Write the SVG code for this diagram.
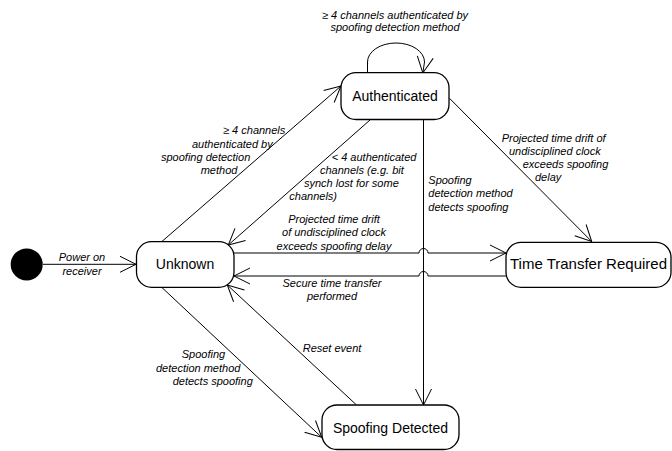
<svg xmlns="http://www.w3.org/2000/svg" width="672" height="451" viewBox="0 0 672 451">
<style>
.state{fill:#fff;stroke:#000;stroke-width:1.3}
.name{font-family:"Liberation Sans",Arial,sans-serif;font-size:14px;fill:#000;text-anchor:middle}
.edge{fill:none;stroke:#000;stroke-width:1;marker-end:url(#arr)}
.lbl{font-family:"Liberation Sans",Arial,sans-serif;font-size:11px;font-style:italic;fill:#000}
.mid{text-anchor:middle}
</style>
<defs>
<marker id="arr" viewBox="0 0 17 18" refX="16.5" refY="9" markerWidth="17" markerHeight="18" markerUnits="userSpaceOnUse" orient="auto">
<path d="M0.5,1 L16.5,9 L0.5,17" fill="none" stroke="#000" stroke-width="1"/>
</marker>
</defs>
<rect width="672" height="451" fill="#fff"/>
<g id="connectors">
<g id="e-power">
<path class="edge" d="M43,264.3 L136,264.3"/>
<text class="lbl mid" x="82" y="260.5">Power on</text>
<text class="lbl mid" x="82" y="274.5">receiver</text>
</g>
<g id="e-unknown-auth">
<path class="edge" d="M161.7,241.7 L341,86"/>
<text class="lbl" x="223" y="134">≥ 4 channels</text>
<text class="lbl" x="192" y="147.5">authenticated by</text>
<text class="lbl" x="161" y="161">spoofing detection</text>
<text class="lbl" x="200.7" y="174">method</text>
</g>
<g id="e-auth-self">
<path class="edge" d="M367.5,73 L367.5,62 A28.5,19 0 0 1 424.5,62 L422.8,73"/>
<text class="lbl mid" x="395" y="19">≥ 4 channels authenticated by</text>
<text class="lbl mid" x="395" y="31">spoofing detection method</text>
</g>
<g id="e-auth-unknown">
<path class="edge" d="M370,120 L228.3,245"/>
<text class="lbl" x="331.7" y="161">&lt; 4 authenticated</text>
<text class="lbl" x="320" y="174">channels (e.g. bit</text>
<text class="lbl" x="304" y="187">synch lost for some</text>
<text class="lbl" x="289.3" y="200">channels)</text>
</g>
<g id="e-auth-ttr">
<path class="edge" d="M449.5,98.3 L591.7,241.5"/>
<text class="lbl" x="501.7" y="141.5">Projected time drift of</text>
<text class="lbl" x="509" y="154.5">undisciplined clock</text>
<text class="lbl" x="522.7" y="167.5">exceeds spoofing</text>
<text class="lbl" x="535" y="180.5">delay</text>
</g>
<g id="e-auth-sd">
<path class="edge" d="M423.5,119.5 L423.5,405"/>
<text class="lbl" x="428.3" y="184">Spoofing</text>
<text class="lbl" x="428.3" y="197.3">detection method</text>
<text class="lbl" x="428.3" y="210.6">detects spoofing</text>
</g>
<g id="e-unknown-ttr">
<path class="edge" d="M234,253 L419,253 A4.5,4.5 0 0 1 428,253 L506,253"/>
<text class="lbl mid" x="334" y="222.5">Projected time drift</text>
<text class="lbl mid" x="334" y="236">of undisciplined clock</text>
<text class="lbl mid" x="334" y="249.5">exceeds spoofing delay</text>
</g>
<g id="e-ttr-unknown">
<path class="edge" d="M506,276 L428,276 A4.5,4.5 0 0 0 419,276 L234,276"/>
<text class="lbl mid" x="332" y="286.5">Secure time transfer</text>
<text class="lbl mid" x="332" y="300">performed</text>
</g>
<g id="e-unknown-sd">
<path class="edge" d="M161.7,287.3 L321.7,437.3"/>
<text class="lbl" x="181.7" y="358">Spoofing</text>
<text class="lbl" x="156" y="371.5">detection method</text>
<text class="lbl" x="172.7" y="385">detects spoofing</text>
</g>
<g id="e-sd-unknown">
<path class="edge" d="M356,404.5 L227.3,285"/>
<text class="lbl" x="302.7" y="352">Reset event</text>
</g>
</g>
<g id="start">
<circle cx="26.7" cy="264.4" r="16" fill="#000"/>
</g>
<g id="unknown">
<rect class="state" x="136.5" y="241.7" width="97.5" height="45.6" rx="15" ry="15"/>
<text class="name" x="185" y="269.3">Unknown</text>
</g>
<g id="authenticated">
<rect class="state" x="341" y="72.7" width="108" height="46.8" rx="15" ry="15"/>
<text class="name" x="395" y="101.3">Authenticated</text>
</g>
<g id="ttr">
<rect class="state" x="506" y="242.3" width="165" height="45" rx="15" ry="15"/>
<text class="name" x="588.5" y="268.8" style="font-size:15px">Time Transfer Required</text>
</g>
<g id="spoofing-detected">
<rect class="state" x="322" y="405" width="137" height="44.5" rx="15" ry="15"/>
<text class="name" x="390.5" y="432.5">Spoofing Detected</text>
</g>
</svg>
